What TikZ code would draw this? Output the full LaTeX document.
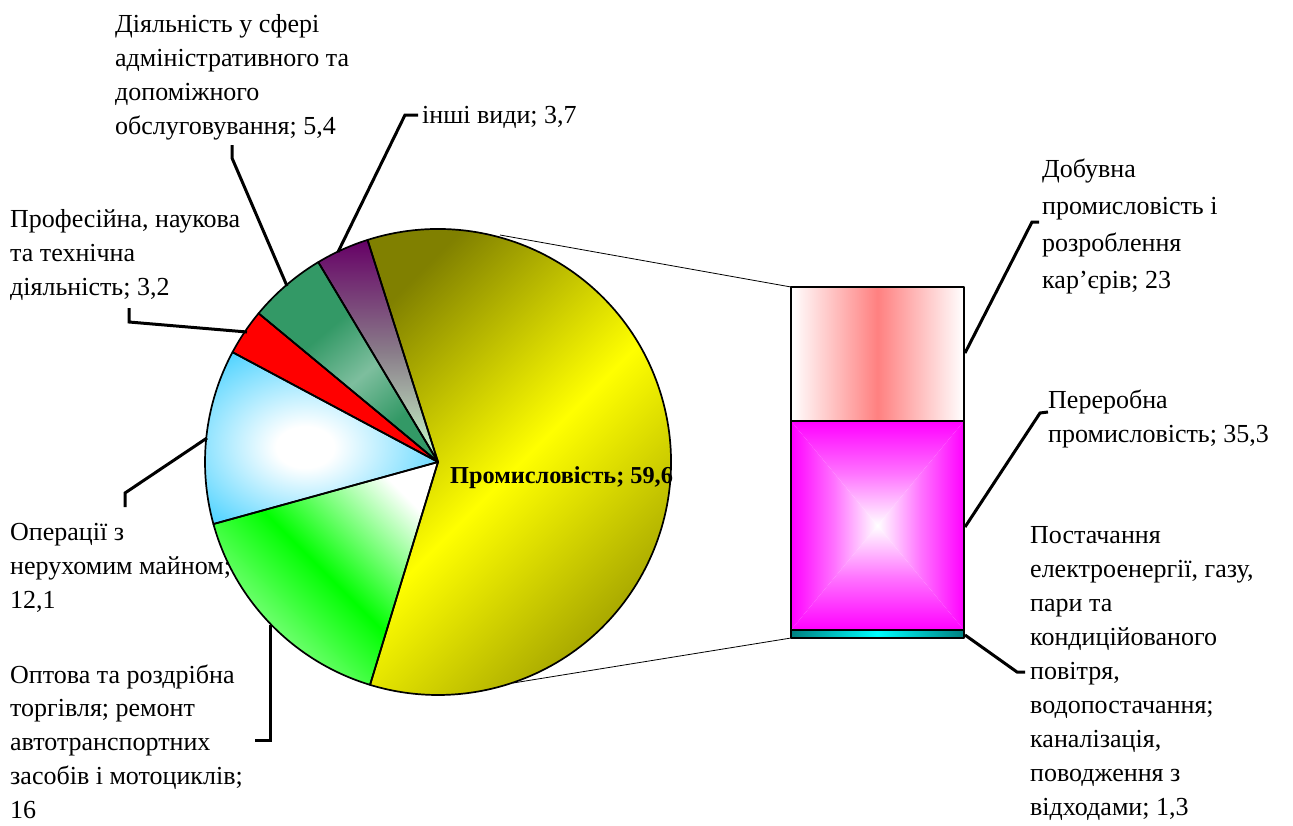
\documentclass[tikz,border=0pt]{standalone}
\usepackage{fontspec}
\setmainfont{Liberation Serif}
\definecolor{olivec}{RGB}{128,128,0}
\definecolor{yellowc}{RGB}{255,255,0}
\definecolor{greenc}{RGB}{0,255,0}
\definecolor{lgreenc}{RGB}{160,255,160}
\definecolor{skyc}{RGB}{51,204,255}
\definecolor{redc}{RGB}{255,0,0}
\definecolor{seac}{RGB}{51,153,102}
\definecolor{lseac}{RGB}{175,215,195}
\definecolor{purplec}{RGB}{102,0,102}
\definecolor{palec}{RGB}{204,255,204}
\definecolor{salmonc}{RGB}{255,128,128}
\definecolor{magc}{RGB}{255,0,255}
\definecolor{tealc}{RGB}{0,128,128}
\definecolor{cyanc}{RGB}{0,255,255}
\pgfdeclareradialshading{bluesh}{\pgfpoint{-3bp}{-3bp}}{color(0bp)=(white); color(6bp)=(white); color(35bp)=(skyc); color(50bp)=(skyc)}
\pgfdeclareverticalshading{seash}{100bp}{color(0bp)=(seac); color(30bp)=(seac); color(45bp)=(lseac!60!seac); color(60bp)=(seac); color(82bp)=(seac); color(100bp)=(lseac)}
\tikzset{
  slice/.style={draw=black, line width=1.7pt, line join=round},
  leader/.style={draw=black, line width=3pt},
  conn/.style={draw=black, line width=0.8pt},
  lbl/.style={inner sep=0pt, anchor=base west, align=left, font=\fontsize{26}{34}\selectfont},
}
\begin{document}
\begin{tikzpicture}[x=1pt,y=-1pt]
\useasboundingbox (0,0) rectangle (1293,825);
\coordinate (c) at (438,462);
\def\R{233}
% slices
\shade[top color=olivec, bottom color=olivec!80!yellowc, middle color=yellowc, shading angle=45]
  (c) -- ++(-107.6:\R) arc[start angle=-107.6, end angle=106.96, radius=\R] -- cycle;
\shade[top color=white, bottom color=lgreenc, middle color=greenc, shading angle=-45]
  (c) -- ++(106.96:\R) arc[start angle=106.96, end angle=164.56, radius=\R] -- cycle;
\shade[shading=bluesh]
  (c) -- ++(164.56:\R) arc[start angle=164.56, end angle=208.12, radius=\R] -- cycle;
\fill[redc]
  (c) -- ++(208.12:\R) arc[start angle=208.12, end angle=219.64, radius=\R] -- cycle;
\shade[shading=seash, shading angle=40]
  (c) -- ++(219.64:\R) arc[start angle=219.64, end angle=239.08, radius=\R] -- cycle;
\shade[top color=purplec, bottom color=palec, middle color=gray!85!purplec!90]
  (c) -- ++(239.08:\R) arc[start angle=239.08, end angle=252.4, radius=\R] -- cycle;
\node[inner sep=0pt, anchor=base west, font=\fontsize{24.3}{30}\selectfont\bfseries] (ind) at (450,483) {Промисловість; 59,6};
\foreach \a/\b in {-107.6/106.96, 106.96/164.56, 164.56/208.12, 208.12/219.64, 219.64/239.08, 239.08/252.4}
  \draw[slice] (c) -- ++(\a:\R) arc[start angle=\a, end angle=\b, radius=\R] -- cycle;
% bar
\coordinate (bt) at (791,287);
\coordinate (bm) at (877.5,525.5);
\shade[left color=white, right color=white, middle color=salmonc] (791,287) rectangle (964,421);
\shade[top color=magc, bottom color=white, middle color=magc!55!white] (791,421) -- (964,421) -- (bm) -- cycle;
\shade[top color=white, bottom color=magc, middle color=magc!55!white] (791,630) -- (964,630) -- (bm) -- cycle;
\shade[left color=magc, right color=white, middle color=magc!55!white] (791,421) -- (791,630) -- (bm) -- cycle;
\shade[left color=white, right color=magc, middle color=magc!55!white] (964,421) -- (964,630) -- (bm) -- cycle;
\shade[left color=tealc, right color=tealc, middle color=cyanc] (791,630) rectangle (964,638);
\draw[slice] (791,287) rectangle (964,421);
\draw[slice] (791,421) rectangle (964,630);
\draw[slice] (791,630) rectangle (964,638);
\coordinate (bb) at (791,638);
% connectors pie -> bar
\coordinate (pt) at (500,235);
\coordinate (pb) at (513,683);
\draw[conn] (pt) -- (bt);
\draw[conn] (pb) -- (bb);
% labels (anchored at the baseline of their last line)
\node[lbl] (adm) at (115,134) {Діяльність у сфері\\адміністративного та\\допоміжного\\обслуговування; 5,4};
\node[lbl] (prof) at (10,295) {Професійна, наукова\\та технічна\\діяльність; 3,2};
\node[lbl] (oth) at (422,123) {інші види; 3,7};
\node[lbl] (real) at (10,608) {Операції з\\нерухомим майном;\\12,1};
\node[lbl, font=\fontsize{26}{33.7}\selectfont] (trade) at (10,818) {Оптова та роздрібна\\торгівля; ремонт\\автотранспортних\\засобів і мотоциклів;\\16};
\node[lbl, font=\fontsize{26}{37}\selectfont] (mine) at (1042,288) {Добувна\\промисловість і\\розроблення\\кар’єрів; 23};
\node[lbl] (manu) at (1048,442) {Переробна\\промисловість; 35,3};
\node[lbl] (util) at (1030,815) {Постачання\\електроенергії, газу,\\пари та\\кондиційованого\\повітря,\\водопостачання;\\каналізація,\\поводження з\\відходами; 1,3};
% leader lines
\draw[leader] (232,145) -- (232,158) -- (287,286);
\draw[leader] (129,308) -- (129,322) -- (247,332);
\draw[leader] (418,115) -- (405,115) -- (338,252);
\draw[leader] (125,507) -- (125,493) -- (207,438);
\draw[leader] (270,625) -- (270,740) -- (255,740);
\draw[leader] (1039,222) -- (1032,222) -- (965,353);
\draw[leader] (1048,412) -- (1040,413) -- (965,527);
\draw[leader] (965,635) -- (1017,672) -- (1025,672);
\end{tikzpicture}
\end{document}
